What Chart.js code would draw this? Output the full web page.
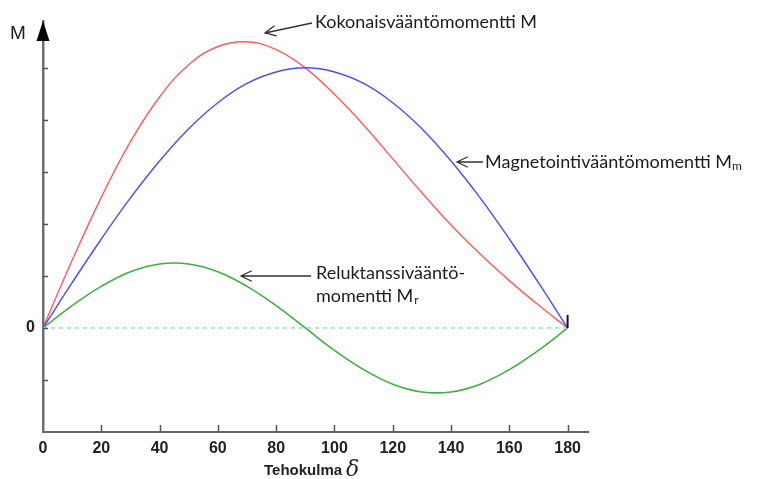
<!DOCTYPE HTML><html><head>
<meta name="viewport" content="width=device-width, initial-scale=1">
<style>
    html, body {
      margin: 0px;
      padding: 0px;
      background: #ffffff;
    }
    #wrap {
      width: 758px;
      height: 479px;
    }
</style>
</head>
<body>
<div id="wrap"><canvas id="myChart" width="758" height="479"></canvas></div>
<script src="https://cdn.jsdelivr.net/npm/chart.js@4.4.0/dist/chart.umd.min.js"></script>
<script>
// tehokulma (deg) and the three torque curves
var angles = [0, 10, 20, 30, 40, 50, 60, 70, 80, 90, 100, 110, 120, 130, 140, 150, 160, 170, 180];
var totalM = [0, 1.30, 2.51, 3.58, 4.44, 5.06, 5.41, 5.50, 5.35, 5.00, 4.49, 3.90, 3.25, 2.60, 1.98, 1.42, 0.91, 0.44, 0];
var magnM  = [0, 0.87, 1.71, 2.50, 3.21, 3.83, 4.33, 4.70, 4.92, 5.00, 4.92, 4.70, 4.33, 3.83, 3.21, 2.50, 1.71, 0.87, 0];
var relM   = [0, 0.43, 0.80, 1.08, 1.23, 1.23, 1.08, 0.80, 0.43, 0, -0.43, -0.80, -1.08, -1.23, -1.23, -1.08, -0.80, -0.43, 0];
var zeroLine = [0, 0];
var zeroAngles = [0, 180];

var xTicks = [0, 20, 40, 60, 80, 100, 120, 140, 160, 180];
var yTicks = [-1, 0, 1, 2, 3, 4, 5];

function pts(xs, ys) {
    return xs.map(function (x, i) { return {x: x, y: ys[i]}; });
}

function arrow(ctx, x1, y1, x2, y2) {
    // line from (x1,y1) with an open head at (x2,y2)
    var a = Math.atan2(y2 - y1, x2 - x1), h = 12, s = 0.45;
    ctx.beginPath();
    ctx.moveTo(x1, y1);
    ctx.lineTo(x2, y2);
    ctx.moveTo(x2 - h * Math.cos(a - s), y2 - h * Math.sin(a - s));
    ctx.lineTo(x2, y2);
    ctx.lineTo(x2 - h * Math.cos(a + s), y2 - h * Math.sin(a + s));
    ctx.stroke();
}

var extras = {
    id: 'extras',
    afterDraw: function (chart) {
        var ctx = chart.ctx, xs = chart.scales.x, ys = chart.scales.y;
        var x0 = xs.getPixelForValue(0), yb = ys.bottom;
        ctx.save();

        // inward tick marks
        ctx.strokeStyle = '#555';
        ctx.lineWidth = 1.5;
        ctx.beginPath();
        yTicks.forEach(function (v) {
            var py = Math.round(ys.getPixelForValue(v)) + 0.5;
            ctx.moveTo(x0, py); ctx.lineTo(x0 + 5, py);
        });
        xTicks.forEach(function (v) {
            if (v === 0) return;
            var px = Math.round(xs.getPixelForValue(v)) + 0.5;
            ctx.moveTo(px, yb); ctx.lineTo(px, yb - 7);
        });
        ctx.stroke();

        // arrow head on top of M axis
        ctx.fillStyle = '#000';
        ctx.beginPath();
        ctx.moveTo(x0, 21);
        ctx.lineTo(x0 + 6.5, 41);
        ctx.lineTo(x0 - 6.5, 41);
        ctx.closePath();
        ctx.fill();

        // small end mark at 180
        var xe = xs.getPixelForValue(180), ye = ys.getPixelForValue(0);
        ctx.strokeStyle = '#111';
        ctx.lineWidth = 2;
        ctx.beginPath();
        ctx.moveTo(xe, ye - 13); ctx.lineTo(xe, ye);
        ctx.stroke();

        // axis names
        ctx.fillStyle = '#1a1a2a';
        ctx.font = '19px "Liberation Sans", Arial';
        ctx.textBaseline = 'alphabetic';
        ctx.fillText('M', 10, 39);

        ctx.fillStyle = '#222';
        ctx.font = 'bold 15px "Liberation Sans", Arial';
        ctx.fillText('Tehokulma', 264, 475);
        var tw = ctx.measureText('Tehokulma').width;
        ctx.font = 'italic 22px "DejaVu Serif", serif';
        ctx.fillText('\u03b4', 264 + tw + 4, 476);

        // curve labels
        ctx.fillStyle = '#1c1c1c';
        ctx.font = '18px Lato';
        ctx.fillText('Kokonaisvääntömomentti M', 315, 28);
        var t = 'Magnetointivääntömomentti M';
        ctx.fillText(t, 485, 168);
        var w = ctx.measureText(t).width;
        ctx.fillText('Reluktanssivääntö-', 316, 279);
        ctx.fillText('momentti M', 316, 302);
        var w2 = ctx.measureText('momentti M').width;
        ctx.font = '12px Lato';
        ctx.fillText('m', 485 + w, 170);
        ctx.fillText('r', 316 + w2 + 1, 304);

        ctx.strokeStyle = '#333';
        ctx.lineWidth = 1.3;
        arrow(ctx, 312, 23, 265, 33);
        arrow(ctx, 483, 162, 457, 162);
        arrow(ctx, 311, 276, 241, 276);

        ctx.restore();
    }
};

var ctx = document.getElementById('myChart');
var myChart = new Chart(ctx, {
    type: 'line',
    data: {
        datasets: [{
            label: 'nolla',
            data: pts(zeroAngles, zeroLine),
            borderColor: '#80e4e4',
            borderWidth: 1.5,
            borderDash: [4, 4],
            pointRadius: 0,
            fill: false
        }, {
            label: 'Reluktanssivääntömomentti',
            data: pts(angles, relM),
            borderColor: '#42ad42',
            borderWidth: 1.6,
            pointRadius: 0,
            tension: 0.4,
            fill: false
        }, {
            label: 'Magnetointivääntömomentti',
            data: pts(angles, magnM),
            borderColor: '#4b4bff',
            borderWidth: 1.4,
            pointRadius: 0,
            tension: 0.4,
            fill: false
        }, {
            label: 'Kokonaisvääntömomentti',
            data: pts(angles, totalM),
            borderColor: '#ff5a5a',
            borderWidth: 1.4,
            pointRadius: 0,
            tension: 0.4,
            fill: false
        }]
    },
    options: {
        responsive: false,
        animation: false,
        layout: {
            padding: {left: 0, right: 170, top: 21, bottom: 0}
        },
        plugins: {
            legend: {display: false},
            tooltip: {enabled: false}
        },
        scales: {
            x: {
                type: 'linear',
                min: 0,
                max: 187,
                afterBuildTicks: function (s) { s.ticks = xTicks.map(function (v) { return {value: v}; }); },
                afterFit: function (s) { s.height = 47; },
                grid: {drawOnChartArea: false, drawTicks: false},
                border: {display: true, color: '#666', width: 2},
                ticks: {
                    padding: 7,
                    color: '#222',
                    font: {family: '"Liberation Sans", Arial', size: 16, weight: 'bold'},
                    maxRotation: 0
                }
            },
            y: {
                type: 'linear',
                min: -2,
                max: 5.9,
                afterBuildTicks: function (s) { s.ticks = yTicks.map(function (v) { return {value: v}; }); },
                afterFit: function (s) { s.width = 43; },
                grid: {drawOnChartArea: false, drawTicks: false},
                border: {display: true, color: '#6e6e6e', width: 2.5},
                ticks: {
                    padding: 8,
                    color: '#222',
                    font: {family: '"Liberation Sans", Arial', size: 16, weight: 'bold'},
                    callback: function (v) { return v === 0 ? '0' : ''; }
                }
            }
        }
    },
    plugins: [extras]
});
</script>
</body></html>
